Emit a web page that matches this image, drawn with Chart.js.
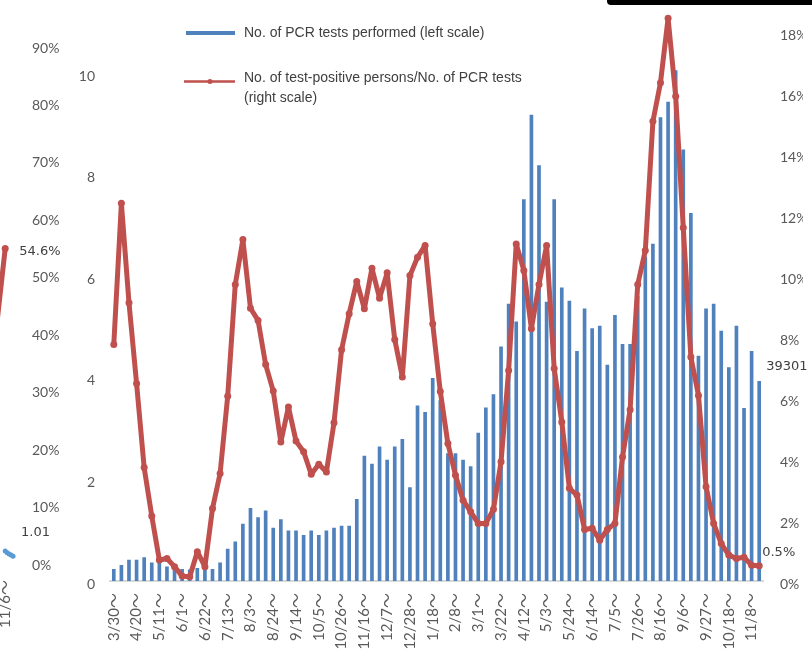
<!DOCTYPE html>
<html>
<head>
<meta charset="utf-8">
<script src="https://cdn.jsdelivr.net/npm/chart.js@4.4.0/dist/chart.umd.min.js"></script>
<style>
  html, body { margin: 0; padding: 0; background: #fff; }
  body { width: 812px; height: 664px; overflow: hidden; position: relative; }
  #prevWrap { position: absolute; left: -200px; top: -40px; }
  #mainWrap { position: absolute; left: 0; top: -54px; }
  #topBar { position: absolute; left: 607px; top: 0; width: 205px; height: 5px; background: #000; border-bottom-left-radius: 4px; }
</style>
</head>
<body>
<div id="prevWrap"><canvas id="prevChart" width="270" height="704"></canvas></div>
<div id="mainWrap"><canvas id="pcrChart" width="812" height="718"></canvas></div>
<div id="topBar"></div>
<script>
// weekly data, 3/30/2020 - 11/15/2021
var weeks = [
  '3/30～', '4/6～', '4/13～', '4/20～', '4/27～', '5/4～', '5/11～', '5/18～', '5/25～', '6/1～',
  '6/8～', '6/15～', '6/22～', '6/29～', '7/6～', '7/13～', '7/20～', '7/27～', '8/3～', '8/10～',
  '8/17～', '8/24～', '8/31～', '9/7～', '9/14～', '9/21～', '9/28～', '10/5～', '10/12～', '10/19～',
  '10/26～', '11/2～', '11/9～', '11/16～', '11/23～', '11/30～', '12/7～', '12/14～', '12/21～', '12/28～',
  '1/4～', '1/11～', '1/18～', '1/25～', '2/1～', '2/8～', '2/15～', '2/22～', '3/1～', '3/8～',
  '3/15～', '3/22～', '3/29～', '4/5～', '4/12～', '4/19～', '4/26～', '5/3～', '5/10～', '5/17～',
  '5/24～', '5/31～', '6/7～', '6/14～', '6/21～', '6/28～', '7/5～', '7/12～', '7/19～', '7/26～',
  '8/2～', '8/9～', '8/16～', '8/23～', '8/30～', '9/6～', '9/13～', '9/20～', '9/27～', '10/4～',
  '10/11～', '10/18～', '10/25～', '11/1～', '11/8～', '11/15～'
];

// PCR tests performed (10,000 tests)
var pcrTests = [
  0.23, 0.31, 0.41, 0.41, 0.46, 0.36, 0.35, 0.28, 0.25, 0.23,
  0.22, 0.25, 0.24, 0.23, 0.36, 0.63, 0.77, 1.12, 1.43, 1.25,
  1.38, 1.04, 1.21, 0.99, 0.99, 0.90, 0.99, 0.90, 0.99, 1.04,
  1.08, 1.08, 1.61, 2.46, 2.30, 2.64, 2.38, 2.64, 2.79, 1.84,
  3.45, 3.32, 3.99, 3.55, 2.51, 2.51, 2.38, 2.25, 2.91, 3.41,
  3.67, 4.61, 5.45, 5.10, 7.51, 9.17, 8.18, 5.49, 7.51, 5.77,
  5.51, 4.52, 5.36, 4.97, 5.02, 4.25, 5.23, 4.66, 4.66, 5.60,
  6.38, 6.63, 9.12, 9.43, 10.05, 8.49, 7.24, 4.43, 5.36, 5.45,
  4.92, 4.20, 5.02, 3.40, 4.52, 3.9301
];

// test-positive persons / PCR tests (%)
var positiveRate = [
  7.76, 12.39, 9.13, 6.48, 3.72, 2.13, 0.69, 0.74, 0.47, 0.16,
  0.14, 0.96, 0.47, 2.38, 3.53, 6.06, 9.73, 11.20, 8.95, 8.55,
  7.10, 6.23, 4.56, 5.71, 4.59, 4.24, 3.50, 3.83, 3.58, 5.19,
  7.59, 8.77, 9.83, 8.93, 10.26, 9.28, 10.11, 7.92, 6.69, 10.02,
  10.62, 11.01, 8.44, 6.22, 4.51, 3.47, 2.65, 2.27, 1.89, 1.89,
  2.35, 3.91, 6.91, 11.06, 10.19, 8.28, 9.73, 11.01, 6.97, 5.22,
  3.04, 2.82, 1.69, 1.73, 1.34, 1.69, 1.89, 4.07, 5.62, 9.73,
  10.84, 15.08, 16.35, 18.46, 15.90, 11.59, 7.35, 6.09, 3.09, 1.89,
  1.23, 0.85, 0.74, 0.78, 0.52, 0.50
];

var testTicks = [0, 2, 4, 6, 8, 10, 12];
var rateTicks = [0, 2, 4, 6, 8, 10, 12, 14, 16, 18, 20];

// the neighbouring panel on the left, of which only the end shows
var prevDays = [-14, -7, 0];
var prevShare = [22.0, 33.0, 54.6];
var prevRatioDays = [0, 1, 2, 3, 4];
var prevRatio = [1.9, 1.6, 1.4, 1.2, 1.01];
var prevTicks = [0, 10, 20, 30, 40, 50, 60, 70, 80, 90, 100];

var BLUE = '#4F81BD';
var RED = '#C0504D';
var GREY = '#595959';

Chart.defaults.font.family = 'Lato, "Liberation Sans", sans-serif';
Chart.defaults.font.size = 14;
Chart.defaults.color = GREY;

// value labels next to the last mark of a dataset
var endLabels = {
  id: 'endLabels',
  afterDatasetsDraw: function (chart, args, opts) {
    var ctx = chart.ctx;
    ctx.save();
    ctx.font = '13px "DejaVu Sans"';
    ctx.fillStyle = '#404040';
    ctx.textBaseline = 'middle';
    ctx.textAlign = 'left';
    opts.items.forEach(function (item) {
      var meta = chart.getDatasetMeta(item.dataset);
      var el = meta.data[meta.data.length - 1];
      ctx.fillText(item.text, el.x + item.dx, el.y + item.dy);
    });
    ctx.restore();
  }
};

// legend in the upper part of the plot (canvas sits 54px above the page)
var sideLegend = {
  id: 'sideLegend',
  afterDraw: function (chart) {
    var ctx = chart.ctx;
    var top = 54;
    ctx.save();
    ctx.lineCap = 'butt';
    ctx.strokeStyle = BLUE;
    ctx.lineWidth = 4;
    ctx.beginPath();
    ctx.moveTo(186, top + 33);
    ctx.lineTo(235, top + 33);
    ctx.stroke();

    ctx.strokeStyle = RED;
    ctx.lineWidth = 2.5;
    ctx.beginPath();
    ctx.moveTo(184, top + 81.5);
    ctx.lineTo(235, top + 81.5);
    ctx.stroke();
    ctx.fillStyle = RED;
    ctx.beginPath();
    ctx.arc(210, top + 81.5, 2.5, 0, Math.PI * 2);
    ctx.fill();

    ctx.font = '14px "Liberation Sans", Arial, sans-serif';
    ctx.fillStyle = '#404040';
    ctx.textBaseline = 'middle';
    ctx.fillText(chart.data.datasets[1].label, 244, top + 33);
    ctx.fillText('No. of test-positive persons/No. of PCR tests', 244, top + 78.5);
    ctx.fillText('(right scale)', 244, top + 98.5);
    ctx.restore();
  }
};

function createPcrChart() {
  var ctx = document.getElementById('pcrChart').getContext('2d');
  return new Chart(ctx, {
    type: 'bar',
    data: {
      labels: weeks,
      datasets: [
        {
          type: 'line',
          label: 'No. of test-positive persons/No. of PCR tests (right scale)',
          data: positiveRate,
          yAxisID: 'yRate',
          borderColor: RED,
          backgroundColor: RED,
          borderWidth: 5,
          borderJoinStyle: 'round',
          borderCapStyle: 'round',
          pointRadius: 3.5,
          pointBorderWidth: 0,
          pointBackgroundColor: RED,
          tension: 0,
          order: 0,
          clip: false
        },
        {
          type: 'bar',
          label: 'No. of PCR tests performed (left scale)',
          data: pcrTests,
          yAxisID: 'yTests',
          backgroundColor: BLUE,
          barThickness: 3,
          order: 1
        }
      ]
    },
    options: {
      responsive: false,
      animation: false,
      devicePixelRatio: 1,
      layout: { padding: { left: 80, right: 9, top: 10.5, bottom: 0 } },
      scales: {
        x: {
          grid: { display: false, drawTicks: false },
          border: { display: true, color: '#D9D9D9', width: 2 },
          ticks: {
            autoSkip: false,
            minRotation: 90,
            maxRotation: 90,
            padding: 12,
            font: { size: 15, family: 'Lato, "Noto Sans CJK JP", sans-serif' },
            callback: function (val, i) {
              return i % 3 === 0 ? weeks[i] : '';
            }
          },
          afterFit: function (s) { s.height = 83; }
        },
        yTests: {
          position: 'left',
          min: testTicks[0],
          max: testTicks[testTicks.length - 1],
          grid: { display: false, drawTicks: false },
          border: { display: false },
          afterBuildTicks: function (s) {
            s.ticks = testTicks.map(function (v) { return { value: v }; });
          },
          ticks: { padding: 15, labelOffset: 3 },
          afterFit: function (s) { s.width = 30; }
        },
        yRate: {
          position: 'right',
          min: rateTicks[0],
          max: rateTicks[rateTicks.length - 1],
          grid: { display: false, drawTicks: false },
          border: { display: false },
          afterBuildTicks: function (s) {
            s.ticks = rateTicks.map(function (v) { return { value: v }; });
          },
          ticks: {
            padding: 17,
            labelOffset: 3,
            callback: function (v) { return v + '%'; }
          },
          afterFit: function (s) { s.width = 40; }
        }
      },
      plugins: {
        legend: { display: false },
        tooltip: { enabled: false },
        endLabels: {
          items: [
            { dataset: 1, text: String(Math.round(pcrTests[pcrTests.length - 1] * 10000)), dx: 7, dy: -15 },
            { dataset: 0, text: positiveRate[positiveRate.length - 1] + '%', dx: 3, dy: -13 }
          ]
        }
      }
    },
    plugins: [endLabels, sideLegend]
  });
}

function createPrevChart() {
  var ctx = document.getElementById('prevChart').getContext('2d');
  return new Chart(ctx, {
    type: 'line',
    data: {
      datasets: [
        {
          data: prevRatioDays.map(function (d, i) { return { x: d, y: prevRatio[i] }; }),
          borderColor: '#5B9BD5',
          backgroundColor: '#5B9BD5',
          borderWidth: 3,
          pointRadius: 2.5,
          pointBorderWidth: 0,
          clip: false
        },
        {
          data: prevDays.map(function (d, i) { return { x: d, y: prevShare[i] }; }),
          borderColor: RED,
          backgroundColor: RED,
          borderWidth: 5,
          borderJoinStyle: 'round',
          pointRadius: 3.5,
          pointBorderWidth: 0,
          clip: false
        }
      ]
    },
    options: {
      responsive: false,
      animation: false,
      devicePixelRatio: 1,
      layout: { padding: { left: 0, right: 0, top: 27.6, bottom: 0 } },
      scales: {
        x: {
          type: 'linear',
          min: -102.5,
          max: 5.5,
          grid: { display: false, drawTicks: false },
          border: { display: false },
          afterBuildTicks: function (s) { s.ticks = [{ value: 0 }]; },
          ticks: {
            minRotation: 90,
            maxRotation: 90,
            padding: 18,
            font: { size: 15, family: 'Lato, "Noto Sans CJK JP", sans-serif' },
            callback: function (v) { return v === 0 ? '11/6～' : ''; }
          },
          afterFit: function (s) { s.height = 102; }
        },
        y: {
          position: 'right',
          min: prevTicks[0],
          max: prevTicks[prevTicks.length - 1],
          grid: { display: false, drawTicks: false },
          border: { display: false },
          afterBuildTicks: function (s) {
            s.ticks = prevTicks.map(function (v) { return { value: v }; });
          },
          ticks: {
            padding: 16,
            labelOffset: 3,
            callback: function (v) { return v + '%'; }
          },
          afterFit: function (s) { s.width = 54; }
        }
      },
      plugins: {
        legend: { display: false },
        tooltip: { enabled: false },
        endLabels: {
          items: [
            { dataset: 1, text: prevShare[prevShare.length - 1] + '%', dx: 14, dy: 3 },
            { dataset: 0, text: String(prevRatio[prevRatio.length - 1]), dx: 8, dy: -24 }
          ]
        }
      }
    },
    plugins: [endLabels]
  });
}

var prevChart = createPrevChart();
var pcrChart = createPcrChart();
</script>
</body>
</html>
